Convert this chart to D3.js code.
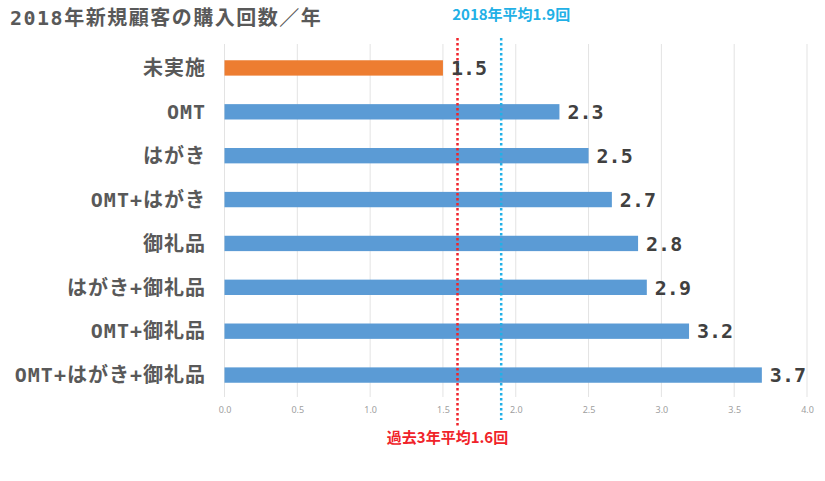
<!DOCTYPE html>
<html>
<head>
<meta charset="utf-8">
<script src="https://cdn.jsdelivr.net/npm/d3@7"></script>
<style>
  body { margin: 0; background: #fff; }
  svg { display: block; }
</style>
</head>
<body>
<svg width="825" height="481"></svg>
<script>
// data (bar lengths, labels rounded to one decimal)
const categories = ["未実施", "OMT", "はがき", "OMT+はがき", "御礼品", "はがき+御礼品", "OMT+御礼品", "OMT+はがき+御礼品"];
const values = [1.5, 2.3, 2.5, 2.66, 2.84, 2.9, 3.19, 3.69];
const tickValues = [0, 0.5, 1, 1.5, 2, 2.5, 3, 3.5, 4];
const refLines = [
  { value: 1.6, label: "過去3年平均1.6回", color: "#f0232a" },
  { value: 1.9, label: "2018年平均1.9回", color: "#22b0e6" }
];

const monoJP = "'DejaVu Sans Mono', 'Noto Sans CJK JP', monospace";

const svg = d3.select("svg");

const x = d3.scaleLinear().domain([0, 4]).range([224.5, 807]);
const y = d3.scaleBand().domain(categories).range([46, 397]).paddingInner(0.65).paddingOuter(0.325);

// Title
svg.append("text")
  .attr("x", 10)
  .attr("y", 25)
  .attr("font-family", monoJP)
  .attr("font-size", 20)
  .attr("font-weight", "bold")
  .attr("letter-spacing", 1.5)
  .attr("fill", "#595959")
  .text("2018年新規顧客の購入回数／年");

// Vertical grid lines
svg.append("g")
  .selectAll("line")
  .data(tickValues)
  .enter()
  .append("line")
  .attr("x1", (d) => x(d))
  .attr("x2", (d) => x(d))
  .attr("y1", 44)
  .attr("y2", 397)
  .attr("stroke", "#e3e3e3")
  .attr("stroke-width", 1);

// x axis tick labels
const xAxis = svg.append("g")
  .attr("transform", "translate(0,404)")
  .call(d3.axisBottom(x).tickValues(tickValues).tickFormat(d3.format(".1f")).tickSize(0));
xAxis.select(".domain").remove();
xAxis.selectAll("text")
  .attr("fill", "#a0a0a0")
  .attr("font-family", "'Noto Sans', sans-serif")
  .attr("font-size", 9)
  .attr("dy", "0.71em");

// Bars
svg.append("g")
  .selectAll("rect")
  .data(values)
  .enter()
  .append("rect")
  .attr("x", x(0))
  .attr("y", (d, i) => y(categories[i]))
  .attr("width", (d) => x(d) - x(0))
  .attr("height", y.bandwidth())
  .attr("fill", (d, i) => (i === 0 ? "#ed7d31" : "#5b9bd5"));

// Category labels
svg.append("g")
  .selectAll("text")
  .data(categories)
  .enter()
  .append("text")
  .attr("x", 206)
  .attr("y", (d) => y(d) + y.bandwidth() / 2)
  .attr("dy", "0.36em")
  .attr("text-anchor", "end")
  .attr("font-family", monoJP)
  .attr("font-size", 20)
  .attr("font-weight", "bold")
  .attr("letter-spacing", 1)
  .attr("fill", "#595959")
  .text((d) => d);

// Reference lines
refLines.forEach((r, i) => {
  svg.append("line")
    .attr("x1", x(r.value))
    .attr("x2", x(r.value))
    .attr("y1", 38)
    .attr("y2", i === 0 ? 427 : 420)
    .attr("stroke", r.color)
    .attr("stroke-width", 2.5)
    .attr("stroke-dasharray", "2.5,2.5");
});

// Value labels (drawn after lines so the line crosses the 1.5 label like the original)
svg.append("g")
  .selectAll("text")
  .data(values)
  .enter()
  .append("text")
  .attr("x", (d) => x(d) + 8)
  .attr("y", (d, i) => y(categories[i]) + y.bandwidth() / 2)
  .attr("dy", "0.36em")
  .attr("font-family", "'DejaVu Sans Mono', monospace")
  .attr("font-size", 20)
  .attr("font-weight", "bold")
  .attr("fill", "#404040")
  .text((d) => d.toFixed(1));

// Reference line labels
svg.append("text")
  .attr("x", x(refLines[0].value) - 10)
  .attr("y", 443)
  .attr("text-anchor", "middle")
  .attr("font-family", "'Noto Sans CJK JP', sans-serif")
  .attr("font-size", 15)
  .attr("font-weight", "bold")
  .attr("fill", refLines[0].color)
  .text(refLines[0].label);

svg.append("text")
  .attr("x", x(refLines[1].value) + 10)
  .attr("y", 20)
  .attr("text-anchor", "middle")
  .attr("font-family", "'Noto Sans CJK JP', sans-serif")
  .attr("font-size", 15)
  .attr("font-weight", "bold")
  .attr("fill", refLines[1].color)
  .text(refLines[1].label);
</script>
</body>
</html>
